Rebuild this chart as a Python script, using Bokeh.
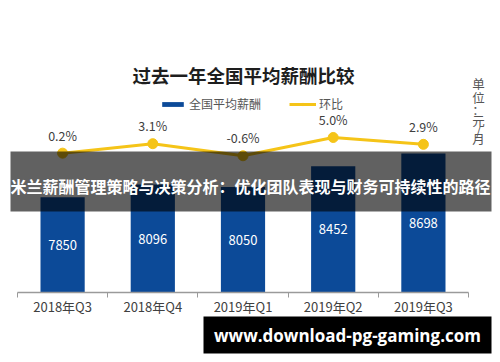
from bokeh.plotting import figure
from bokeh.models import (Range1d, FixedTicker, ColumnDataSource, LabelSet,
                          Label, BoxAnnotation, Legend, LegendItem)
from bokeh.core.properties import value
from bokeh.embed import file_html
from bokeh.resources import INLINE

# ---- data ----
categories = ["2018年Q3", "2018年Q4", "2019年Q1", "2019年Q2", "2019年Q3"]
salary = [7850, 8096, 8050, 8452, 8698]
qoq = [0.2, 3.1, -0.6, 5.0, 2.9]
title_text = "过去一年全国平均薪酬比较"
series_names = ["全国平均薪酬", "环比"]
unit_text = "单位：元/月"
band_text = "米兰薪酬管理策略与决策分析：优化团队表现与财务可持续性的路径"
watermark_text = "www.download-pg-gaming.com"

BAR = "#0c4a98"
YEL = "#f5c418"
FONT = "Noto Sans CJK SC"

Y0 = 6000
idx = list(range(1, len(categories) + 1))
src = ColumnDataSource(dict(
    x=idx, salary=salary, mid=[(v + Y0) / 2 for v in salary],
    salary_txt=[str(v) for v in salary],
    qoq=qoq, qoq_txt=[f"{v:.1f}%" for v in qoq],
))

W, H = 500, 362
p = figure(width=W, height=H, output_backend="svg", toolbar_location=None,
           title=None, x_range=Range1d(0.3115, 5.8548), y_range=Range1d(4641.3, 11667.7),
           y_axis_location=None, min_border=0, min_border_left=0, min_border_right=0,
           min_border_top=0, min_border_bottom=0)
p.outline_line_color = None
p.grid.grid_line_color = None
p.background_fill_color = "white"
p.border_fill_color = "white"
p.extra_y_ranges = {"pct": Range1d(-63.98, 47.0)}

ax = p.xaxis[0]
ax.fixed_location = Y0
ax.bounds = (idx[0] - 0.5, idx[-1] + 0.5)
ax.ticker = FixedTicker(ticks=idx, minor_ticks=[i - 0.5 for i in idx] + [idx[-1] + 0.5])
ax.major_label_overrides = {i: c for i, c in zip(idx, categories)}
ax.major_tick_line_color = None
ax.major_tick_out = 0
ax.major_tick_in = 0
ax.minor_tick_line_color = "#9a9a9a"
ax.minor_tick_out = 5
ax.minor_tick_in = 0
ax.axis_line_color = "#9a9a9a"
ax.axis_line_width = 1.5
ax.major_label_standoff = 0
ax.major_label_text_font = FONT
ax.major_label_text_font_size = "13px"
ax.major_label_text_color = "#404040"

bars = p.vbar(x="x", top="salary", bottom=Y0, width=0.49, source=src,
              fill_color=BAR, line_color=None)
ln = p.line(x="x", y="qoq", source=src, y_range_name="pct", line_color=YEL, line_width=3)
pts = p.scatter(x="x", y="qoq", source=src, y_range_name="pct", size=10,
                fill_color=YEL, line_color=YEL)

p.add_layout(LabelSet(x="x", y="mid", text="salary_txt", source=src, text_align="center",
                      text_baseline="middle", text_color="white", text_font=value(FONT),
                      text_font_size="13px"))
p.add_layout(LabelSet(x="x", y="qoq", y_range_name="pct", text="qoq_txt", source=src,
                      text_align="center", text_baseline="middle", y_offset=18,
                      text_color="#404040", text_font=value(FONT), text_font_size="12.5px"))

# helpers: reference pixel -> frame screen units (frame == whole canvas)
def sx(x):
    return x
def sy(y):
    return H - y

p.add_layout(Label(x=sx(243), y=sy(74), x_units="screen", y_units="screen", text=title_text,
                   text_align="center", text_baseline="middle", text_font=FONT,
                   text_font_size="18.5px", text_font_style="bold", text_color="#1e1e1e"))

legend = Legend(items=[LegendItem(label=series_names[0], renderers=[bars]),
                       LegendItem(label=series_names[1], renderers=[ln, pts])],
                orientation="horizontal", location=(sx(159), sy(112)),
                padding=0, margin=0, spacing=28, label_standoff=3,
                glyph_width=27, glyph_height=6, label_height=12,
                border_line_color=None, background_fill_alpha=0,
                label_text_font=FONT, label_text_font_size="12px",
                label_text_color="#555555")
p.add_layout(legend, "center")

# vertical unit text, one character per line
unit_rows = [83, 96.5, 109, 119.5, 129.5, 138]
for ch, yy in zip(unit_text, unit_rows):
    p.add_layout(Label(x=sx(478), y=sy(yy), x_units="screen", y_units="screen",
                       text=ch, text_align="center", text_baseline="middle",
                       text_font=FONT, text_font_size="12.5px", text_color="#555555"))

# overlay band
p.add_layout(BoxAnnotation(left=sx(10), right=sx(491), bottom=sy(211), top=sy(151),
                           left_units="screen", right_units="screen",
                           bottom_units="screen", top_units="screen",
                           fill_color="black", fill_alpha=0.62, line_color=None))
p.add_layout(Label(x=sx(250), y=sy(185), x_units="screen", y_units="screen", text=band_text,
                   text_align="center", text_baseline="middle", text_font=FONT,
                   text_font_size="16px", text_font_style="bold", text_color="white"))

# watermark box
p.add_layout(BoxAnnotation(left=sx(203), right=sx(491), bottom=sy(353), top=sy(316),
                           left_units="screen", right_units="screen",
                           bottom_units="screen", top_units="screen",
                           fill_color="black", fill_alpha=1, line_color=None))
p.add_layout(Label(x=sx(347), y=sy(335), x_units="screen", y_units="screen",
                   text=watermark_text, text_align="center", text_baseline="middle",
                   text_font="Open Sans", text_font_size="17px", text_font_style="bold",
                   text_color="white"))

open("out.html", "w").write(file_html(p, INLINE))
